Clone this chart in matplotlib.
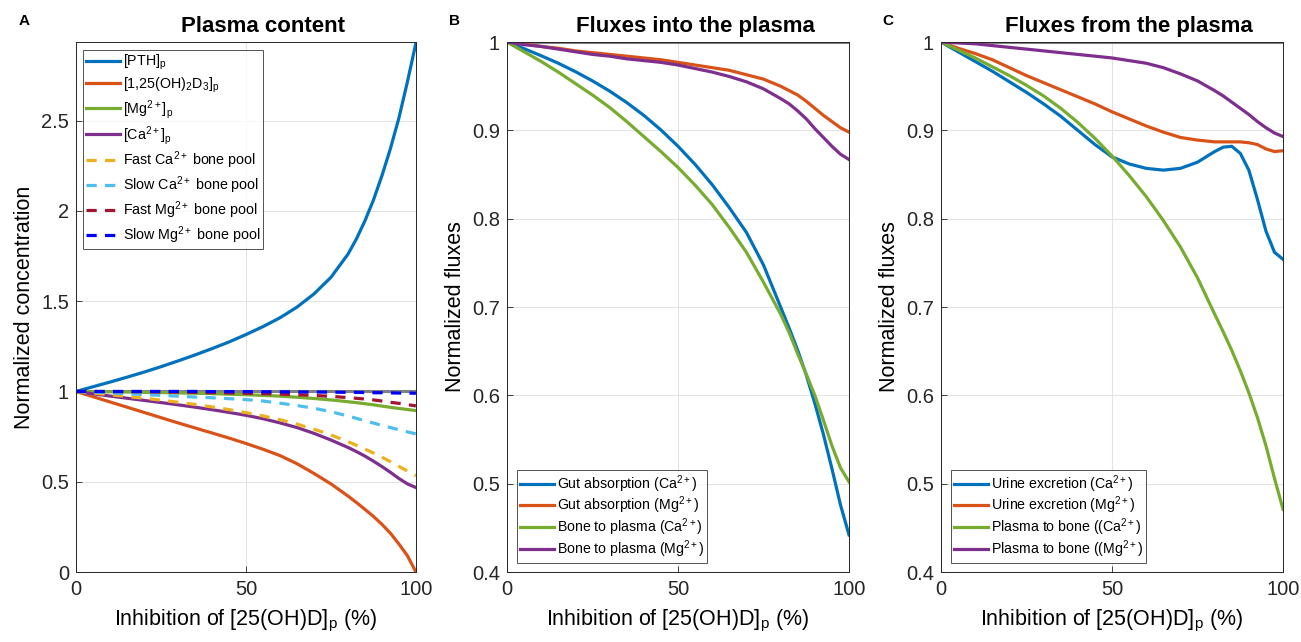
#!/usr/bin/env python3
import matplotlib
matplotlib.use('Agg')
import matplotlib.pyplot as plt

# inhibition of [25(OH)D]p (%)
inhib = [0, 5, 10, 15, 20, 25, 30, 35, 40, 45, 50, 55, 60, 65, 70, 75,
         80, 82.5, 85, 87.5, 90, 92.5, 95, 97.5, 100]

# panel A - plasma content
pth = [1.0, 1.026, 1.052, 1.079, 1.107, 1.137, 1.169, 1.202, 1.237, 1.274, 1.315, 1.359,
       1.408, 1.467, 1.54, 1.632, 1.76, 1.845, 1.945, 2.06, 2.195, 2.345, 2.515, 2.715, 2.93]
calcitriol = [1.0, 0.971, 0.942, 0.913, 0.884, 0.855, 0.826, 0.798, 0.77, 0.742, 0.712, 0.68,
              0.645, 0.60, 0.546, 0.488, 0.421, 0.385, 0.347, 0.308, 0.264, 0.215, 0.155, 0.09, 0.0]
mg_p = [1.0, 0.999, 0.998, 0.997, 0.995, 0.994, 0.992, 0.99, 0.988, 0.985, 0.982, 0.978,
        0.974, 0.968, 0.961, 0.953, 0.943, 0.938, 0.932, 0.926, 0.919, 0.912, 0.906, 0.9, 0.894]
ca_p = [1.0, 0.987, 0.9745, 0.9625, 0.9505, 0.9385, 0.926, 0.913, 0.899, 0.884, 0.868, 0.849,
        0.826, 0.80, 0.768, 0.731, 0.69, 0.667, 0.642, 0.614, 0.584, 0.552, 0.518, 0.488, 0.468]
fast_ca = [1.0, 0.991, 0.982, 0.9725, 0.9625, 0.952, 0.9405, 0.928, 0.9145, 0.8995, 0.883, 0.8645,
           0.8435, 0.819, 0.791, 0.759, 0.722, 0.702, 0.681, 0.659, 0.636, 0.611, 0.585, 0.559, 0.533]
slow_ca = [1.0, 0.996, 0.992, 0.987, 0.983, 0.978, 0.974, 0.969, 0.965, 0.96, 0.955, 0.947,
           0.935, 0.922, 0.907, 0.888, 0.864, 0.851, 0.838, 0.825, 0.812, 0.8, 0.788, 0.776, 0.765]
fast_mg = [1.0, 1.0, 0.999, 0.999, 0.998, 0.997, 0.996, 0.995, 0.993, 0.992, 0.99, 0.988,
           0.985, 0.982, 0.978, 0.973, 0.966, 0.962, 0.958, 0.953, 0.947, 0.94, 0.934, 0.927, 0.92]
slow_mg = [1.0, 1.0, 1.0, 1.0, 1.0, 1.0, 1.0, 1.0, 0.999, 0.999, 0.999, 0.998,
           0.998, 0.997, 0.997, 0.996, 0.995, 0.995, 0.994, 0.993, 0.993, 0.992, 0.991, 0.991, 0.99]

# panel B - fluxes into the plasma
gut_ca = [1.0, 0.9925, 0.9845, 0.976, 0.9665, 0.956, 0.9445, 0.9315, 0.917, 0.9005, 0.882, 0.8615,
          0.8385, 0.8125, 0.7845, 0.7475, 0.70, 0.676, 0.651, 0.623, 0.591, 0.556, 0.517, 0.476, 0.442]
gut_mg = [1.0, 0.998, 0.995, 0.993, 0.99, 0.988, 0.986, 0.984, 0.982, 0.98, 0.977, 0.974,
          0.971, 0.968, 0.963, 0.958, 0.95, 0.945, 0.94, 0.933, 0.925, 0.917, 0.91, 0.903, 0.898]
bone_in_ca = [1.0, 0.989, 0.978, 0.966, 0.953, 0.94, 0.926, 0.91, 0.893, 0.876, 0.858, 0.838,
              0.816, 0.79, 0.762, 0.728, 0.692, 0.671, 0.647, 0.624, 0.60, 0.572, 0.543, 0.518, 0.502]
bone_in_mg = [1.0, 0.997, 0.995, 0.992, 0.989, 0.986, 0.984, 0.981, 0.979, 0.977, 0.974, 0.97,
              0.966, 0.961, 0.955, 0.947, 0.936, 0.93, 0.922, 0.913, 0.902, 0.892, 0.882, 0.873, 0.867]

# panel C - fluxes from the plasma
urine_ca = [1.0, 0.989, 0.978, 0.967, 0.955, 0.943, 0.93, 0.916, 0.9, 0.884, 0.87, 0.862,
            0.857, 0.855, 0.857, 0.864, 0.876, 0.881, 0.882, 0.874, 0.855, 0.822, 0.786, 0.762, 0.754]
urine_mg = [1.0, 0.993, 0.987, 0.98, 0.971, 0.962, 0.954, 0.946, 0.938, 0.93, 0.921, 0.913,
            0.905, 0.898, 0.892, 0.889, 0.887, 0.887, 0.887, 0.887, 0.886, 0.884, 0.879, 0.876, 0.877]
bone_out_ca = [1.0, 0.991, 0.982, 0.972, 0.962, 0.951, 0.939, 0.925, 0.909, 0.891, 0.871, 0.849,
               0.825, 0.798, 0.768, 0.733, 0.692, 0.672, 0.651, 0.628, 0.603, 0.575, 0.543, 0.506, 0.471]
bone_out_mg = [1.0, 0.999, 0.998, 0.996, 0.994, 0.992, 0.99, 0.988, 0.986, 0.984, 0.982, 0.979,
               0.976, 0.971, 0.964, 0.956, 0.945, 0.939, 0.932, 0.925, 0.918, 0.91, 0.903, 0.897, 0.893]

BLUE = '#0072BD'
ORANGE = '#D95319'
YELLOW = '#EDB120'
PURPLE = '#7E2F8E'
GREEN = '#77AC30'
LBLUE = '#4DBEEE'
DRED = '#A2142F'

LW = 2.3
DASH = (0, (3.2, 2.6))


def style_axes(ax, yticks, ylabels, ylim, title, letter, ylabel, lab_x):
    ax.plot([0, 100], [1, 1], color='#808080', lw=2.2, zorder=1)
    ax.set_xlim(0, 100)
    ax.set_ylim(*ylim)
    ax.set_xticks([0, 50, 100])
    ax.set_xticklabels(['0', '50', '100'])
    ax.set_yticks(yticks)
    ax.set_yticklabels(ylabels)
    ax.tick_params(direction='in', length=4, width=0.6, labelsize=14.5,
                   colors='#262626', pad=5)
    ax.tick_params(axis='x', pad=6)
    ax.grid(True, color='#e3e3e3', lw=0.8)
    ax.set_axisbelow(True)
    for s in ax.spines.values():
        s.set_color('#262626')
        s.set_linewidth(0.7)
    ax.set_title(title, x=0.55, fontsize=16, fontweight='bold', pad=7)
    ax.set_ylabel(ylabel, fontsize=15.5)
    ax.yaxis.set_label_coords(lab_x, 0.5)
    ax.set_xlabel('Inhibition of [25(OH)D]$_p$ (%)', fontsize=15.5)
    ax.xaxis.set_label_coords(0.5, -0.068)
    ax.text(-0.17, 1.04, letter, transform=ax.transAxes, fontsize=11,
            fontweight='bold', ha='left', va='center')


def add_legend(ax, loc, anchor, size, spacing, hl):
    leg = ax.legend(loc=loc, bbox_to_anchor=anchor, fontsize=size,
                    frameon=True, fancybox=False, edgecolor='#262626',
                    handlelength=hl, handletextpad=0.2, borderpad=0.2,
                    labelspacing=spacing, borderaxespad=0)
    leg.get_frame().set_linewidth(0.7)


def main():
    plt.rcParams['font.family'] = ['Liberation Sans', 'DejaVu Sans']
    plt.rcParams['mathtext.fontset'] = 'custom'
    plt.rcParams['mathtext.rm'] = 'Liberation Sans'
    plt.rcParams['mathtext.it'] = 'Liberation Sans:italic'
    plt.rcParams['mathtext.bf'] = 'Liberation Sans:bold'
    plt.rcParams['mathtext.default'] = 'regular'

    fig = plt.figure(figsize=(13.01, 6.42), dpi=100)
    ax1 = fig.add_axes([0.0584, 0.109, 0.2613, 0.8255])
    ax2 = fig.add_axes([0.3897, 0.109, 0.2629, 0.8255])
    ax3 = fig.add_axes([0.7233, 0.109, 0.2629, 0.8255])

    # A
    ax1.plot(inhib, pth, color=BLUE, lw=LW, label='[PTH]$_p$')
    ax1.plot(inhib, calcitriol, color=ORANGE, lw=LW, label='[1,25(OH)$_2$D$_3$]$_p$')
    ax1.plot(inhib, mg_p, color=GREEN, lw=LW, label='[Mg$^{2+}$]$_p$')
    ax1.plot(inhib, ca_p, color=PURPLE, lw=LW, label='[Ca$^{2+}$]$_p$')
    ax1.plot(inhib, fast_ca, color=YELLOW, lw=LW, ls=DASH, label='Fast Ca$^{2+}$ bone pool')
    ax1.plot(inhib, slow_ca, color=LBLUE, lw=LW, ls=DASH, label='Slow Ca$^{2+}$ bone pool')
    ax1.plot(inhib, fast_mg, color=DRED, lw=LW, ls=DASH, label='Fast Mg$^{2+}$ bone pool')
    ax1.plot(inhib, slow_mg, color='#0000FF', lw=LW, ls=DASH, label='Slow Mg$^{2+}$ bone pool')
    style_axes(ax1, [0, 0.5, 1, 1.5, 2, 2.5], ['0', '0.5', '1', '1.5', '2', '2.5'],
               (0, 2.935), 'Plasma content', 'A', 'Normalized concentration', -0.12)
    add_legend(ax1, 'upper left', (0.02, 0.985), 10.3, 0.22, 2.4)

    # B
    ax2.plot(inhib, gut_ca, color=BLUE, lw=LW, label='Gut absorption (Ca$^{2+}$)')
    ax2.plot(inhib, gut_mg, color=ORANGE, lw=LW, label='Gut absorption (Mg$^{2+}$)')
    ax2.plot(inhib, bone_in_ca, color=GREEN, lw=LW, label='Bone to plasma (Ca$^{2+}$)')
    ax2.plot(inhib, bone_in_mg, color=PURPLE, lw=LW, label='Bone to plasma (Mg$^{2+}$)')
    yt = [0.4, 0.5, 0.6, 0.7, 0.8, 0.9, 1.0]
    yl = ['0.4', '0.5', '0.6', '0.7', '0.8', '0.9', '1']
    style_axes(ax2, yt, yl, (0.4, 1.0), 'Fluxes into the plasma', 'B',
               'Normalized fluxes', -0.12)
    add_legend(ax2, 'lower left', (0.03, 0.017), 10.2, 0.02, 2.4)

    # C
    ax3.plot(inhib, urine_ca, color=BLUE, lw=LW, label='Urine excretion (Ca$^{2+}$)')
    ax3.plot(inhib, urine_mg, color=ORANGE, lw=LW, label='Urine excretion (Mg$^{2+}$)')
    ax3.plot(inhib, bone_out_ca, color=GREEN, lw=LW, label='Plasma to bone ((Ca$^{2+}$)')
    ax3.plot(inhib, bone_out_mg, color=PURPLE, lw=LW, label='Plasma to bone ((Mg$^{2+}$)')
    style_axes(ax3, yt, yl, (0.4, 1.0), 'Fluxes from the plasma', 'C',
               'Normalized fluxes', -0.12)
    add_legend(ax3, 'lower left', (0.03, 0.017), 10.2, 0.02, 2.4)

    fig.savefig('out.png', dpi=100)


if __name__ == '__main__':
    main()
